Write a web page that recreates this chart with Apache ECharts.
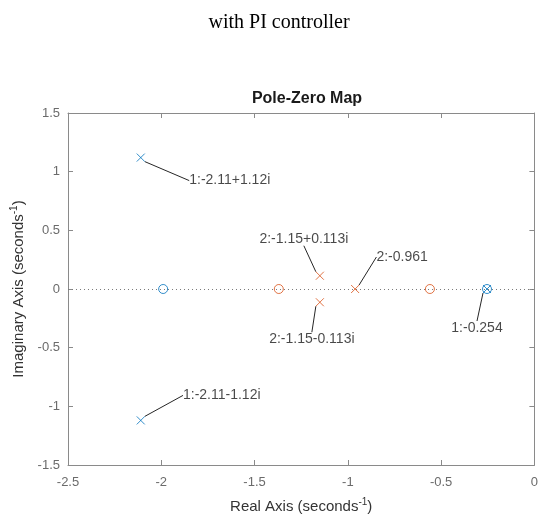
<!DOCTYPE html>
<html>
<head>
<meta charset="utf-8">
<script src="https://cdn.jsdelivr.net/npm/echarts@6/dist/echarts.min.js"></script>
<style>
html,body{margin:0;padding:0;background:#fff;}
#main{width:541px;height:519px;}
</style>
</head>
<body>
<div id="main"></div>
<script>
// ---- data ----
const xTicks = [-2.5, -2, -1.5, -1, -0.5, 0];
const yTicks = [-1.5, -1, -0.5, 0, 0.5, 1, 1.5];
// system 1 (blue)
const sys1PoleRe = [-2.11, -2.11, -0.254];
const sys1PoleIm = [1.12, -1.12, 0];
const sys1ZeroRe = [-1.99, -0.254];
const sys1ZeroIm = [0, 0];
// system 2 (orange)
const sys2PoleRe = [-1.15, -1.15, -0.961];
const sys2PoleIm = [0.113, -0.113, 0];
const sys2ZeroRe = [-1.37, -0.56];
const sys2ZeroIm = [0, 0];

// ---- style: label offsets (px) for each pole datatip ----
const sys1LabelShift = [[89, 23], [81, -25], [-10, 39]];
const sys2LabelShift = [[-16, -37], [-8, 37], [47, -32]];

const BLUE = '#0072BD', ORANGE = '#D95319';
const crossPath = 'path://M0,0L10,10M10,0L0,10';

function pts(re, im) { return re.map((r, i) => [r, im[i]]); }
function tipText(sys, re, im) {
  let s = sys + ':' + String(re);
  if (im > 0) s += '+' + String(im) + 'i';
  else if (im < 0) s += String(im) + 'i';
  return s;
}

function poleSeries(sys, re, im, color, shifts) {
  return {
    type: 'scatter', silent: true, z: 5,
    data: pts(re, im),
    symbol: crossPath, symbolSize: 8,
    itemStyle: { color: 'none', borderColor: color, borderWidth: 1 },
    label: {
      show: true, position: 'inside', color: '#1a1a1a',
      fontFamily: 'Liberation Sans, Arial, sans-serif', fontSize: 14,
      formatter: p => tipText(sys, p.value[0], p.value[1])
    },
    labelLine: { show: true, lineStyle: { color: '#262626', width: 1 } },
    labelLayout: p => ({ dx: shifts[p.dataIndex][0], dy: shifts[p.dataIndex][1] })
  };
}
function zeroSeries(re, im, color) {
  return {
    type: 'scatter', silent: true, z: 4,
    data: pts(re, im),
    symbol: 'circle', symbolSize: 9,
    itemStyle: { color: 'none', borderColor: color, borderWidth: 1 }
  };
}

const axisCol = '#8a8a8a';
const tickFont = { color: '#6b6b6b', fontSize: 13, fontFamily: 'Liberation Sans, Arial, sans-serif' };
const nameFont = {
  color: '#333', fontSize: 15, fontFamily: 'Liberation Sans, Arial, sans-serif',
  rich: { sup: { fontSize: 10, color: '#333', padding: [0, 0, 9, 0], fontFamily: 'Liberation Sans, Arial, sans-serif' } }
};

const chart = echarts.init(document.getElementById('main'), null, { renderer: 'canvas' });
chart.setOption({
  backgroundColor: '#fff',
  animation: false,
  title: [
    { text: 'with PI controller', left: 274, top: 8, textAlign: 'center',
      textStyle: { fontFamily: 'Liberation Serif, Times New Roman, serif', fontWeight: 'normal', fontSize: 20, color: '#000' } },
    { text: 'Pole-Zero Map', left: 302, top: 86, textAlign: 'center',
      textStyle: { fontFamily: 'Liberation Sans, Arial, sans-serif', fontWeight: 'bold', fontSize: 16, color: '#1a1a1a' } }
  ],
  grid: { left: 68, right: 5, top: 113, bottom: 51, containLabel: false },
  xAxis: [
    { type: 'value', min: xTicks[0], max: xTicks[xTicks.length - 1], interval: 0.5, position: 'bottom',
      axisLine: { show: true, onZero: false, lineStyle: { color: axisCol } },
      axisTick: { show: true, inside: true, length: 5, lineStyle: { color: axisCol } },
      axisLabel: Object.assign({ margin: 11, formatter: v => String(v) }, tickFont),
      splitLine: { show: false },
      name: 'Real Axis (seconds{sup|-1})', nameLocation: 'middle', nameGap: 32, nameTextStyle: nameFont },
    { type: 'value', min: xTicks[0], max: xTicks[xTicks.length - 1], interval: 0.5, position: 'top',
      axisLine: { show: true, onZero: false, lineStyle: { color: axisCol } },
      axisTick: { show: true, inside: true, length: 5, lineStyle: { color: axisCol } },
      axisLabel: { show: false }, splitLine: { show: false } }
  ],
  yAxis: [
    { type: 'value', min: yTicks[0], max: yTicks[yTicks.length - 1], interval: 0.5, position: 'left',
      axisLine: { show: true, onZero: false, lineStyle: { color: axisCol } },
      axisTick: { show: true, inside: true, length: 5, lineStyle: { color: axisCol } },
      axisLabel: Object.assign({ margin: 8, formatter: v => String(v) }, tickFont),
      splitLine: { show: false },
      name: 'Imaginary Axis (seconds{sup|-1})', nameLocation: 'middle', nameGap: 35, nameRotate: 90, nameTextStyle: nameFont },
    { type: 'value', min: yTicks[0], max: yTicks[yTicks.length - 1], interval: 0.5, position: 'right',
      axisLine: { show: true, onZero: false, lineStyle: { color: axisCol } },
      axisTick: { show: true, inside: true, length: 5, lineStyle: { color: axisCol } },
      axisLabel: { show: false }, splitLine: { show: false } }
  ],
  series: [
    {
      type: 'line', data: [], silent: true,
      markLine: { silent: true, symbol: 'none', label: { show: false },
        lineStyle: { color: '#7a7a7a', type: [1, 3], width: 1 },
        data: [{ yAxis: 0 }] }
    },
    zeroSeries(sys1ZeroRe, sys1ZeroIm, BLUE),
    poleSeries(1, sys1PoleRe, sys1PoleIm, BLUE, sys1LabelShift),
    zeroSeries(sys2ZeroRe, sys2ZeroIm, ORANGE),
    poleSeries(2, sys2PoleRe, sys2PoleIm, ORANGE, sys2LabelShift)
  ]
});
</script>
</body>
</html>
